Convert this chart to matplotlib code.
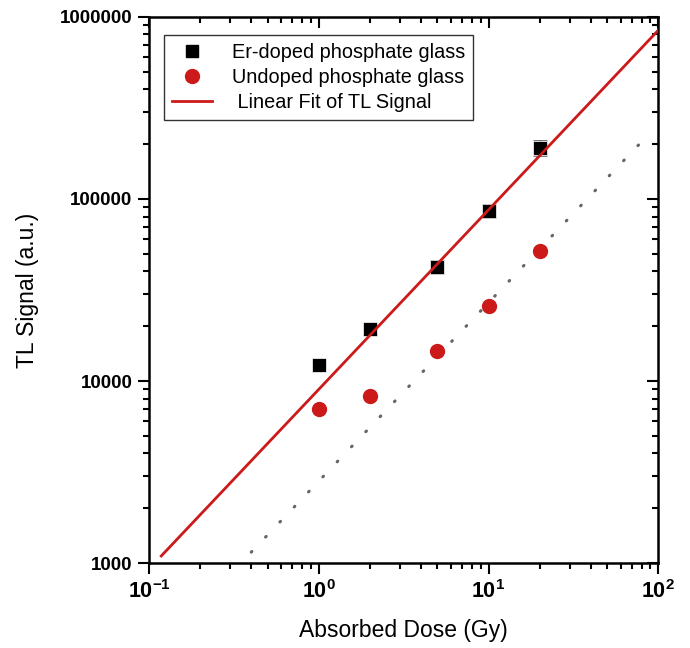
import numpy as np
import matplotlib.pyplot as plt
from matplotlib.lines import Line2D
from matplotlib.ticker import FixedLocator, FixedFormatter, LogLocator, NullFormatter

plt.rcParams['font.family'] = ['Liberation Sans', 'DejaVu Sans']
plt.rcParams['mathtext.fontset'] = 'custom'
plt.rcParams['mathtext.rm'] = 'Liberation Sans:bold'
plt.rcParams['mathtext.bf'] = 'Liberation Sans:bold'
plt.rcParams['mathtext.default'] = 'rm'
plt.rcParams['axes.unicode_minus'] = False

# data
dose = [1, 2, 5, 10, 20]
er_doped = [12300, 19200, 42500, 86300, 191000]
er_err = [400, 1200, 3800, 7500, 19000]
undoped = [6980, 8230, 14700, 25700, 52000]

# linear fit (log-log): y = a * x^b
fit_a, fit_b = 9000, 0.986
fit_range = [0.118, 100]
# dotted guide line
guide_a, guide_b = 2820, 0.98
guide_range = [0.4, 86]

red = '#cc1a1a'

fig = plt.figure(figsize=(6.9, 6.48), dpi=100)
ax = fig.add_axes([0.216, 0.131, 0.738, 0.843])

xf = np.logspace(np.log10(fit_range[0]), np.log10(fit_range[1]), 100)
ax.plot(xf, fit_a * xf ** fit_b, color=red, lw=2, zorder=4)
xg = np.logspace(np.log10(guide_range[0]), np.log10(guide_range[1]), 100)
ax.plot(xg, guide_a * xg ** guide_b, color='#666666', lw=2.2,
        linestyle=(0, (0.3, 6.5)), dash_capstyle='round', zorder=1)

ax.errorbar(dose, er_doped, yerr=er_err, fmt='s', color='black', ms=9.5,
            mec='white', mew=0.5,
            ecolor='#444444', elinewidth=1, capsize=5, capthick=1, zorder=3)
ax.plot(dose, undoped, 'o', color=red, ms=10, zorder=3)

ax.set_xscale('log')
ax.set_yscale('log')
ax.set_xlim(0.1, 100)
ax.set_ylim(1000, 1000000)

ax.xaxis.set_major_locator(FixedLocator([0.1, 1, 10, 100]))
ax.xaxis.set_major_formatter(FixedFormatter([r'$10^{-1}$', r'$10^{0}$', r'$10^{1}$', r'$10^{2}$']))
ax.yaxis.set_major_locator(FixedLocator([1000, 10000, 100000, 1000000]))
ax.yaxis.set_major_formatter(FixedFormatter(['1000', '10000', '100000', '1000000']))
for a in (ax.xaxis, ax.yaxis):
    a.set_minor_locator(LogLocator(base=10, subs=np.arange(2, 10)))
    a.set_minor_formatter(NullFormatter())

ax.tick_params(which='major', direction='out', length=8, width=1.5,
               labelsize=13.5, pad=4)
ax.tick_params(which='minor', direction='out', length=4.5, width=1.5)
ax.tick_params(which='both', top=True, right=True)
for lab in ax.get_yticklabels():
    lab.set_fontweight('bold')
ax.tick_params(axis='x', labelsize=15.5)

# top/right ticks point inward
for t in ax.xaxis.get_major_ticks() + ax.xaxis.get_minor_ticks():
    t.tick2line.set_marker(3)
for t in ax.yaxis.get_major_ticks() + ax.yaxis.get_minor_ticks():
    t.tick2line.set_marker(0)

for s in ax.spines.values():
    s.set_linewidth(1.8)

ax.set_xlabel('Absorbed Dose (Gy)', fontsize=16.5, labelpad=12)
ax.set_ylabel('TL Signal (a.u.)', fontsize=16.5, labelpad=15)

handles = [Line2D([], [], ls='none', marker='s', color='black', ms=8.5),
           Line2D([], [], ls='none', marker='o', color=red, ms=10),
           Line2D([], [], color=red, lw=2)]
labels = ['Er-doped phosphate glass', 'Undoped phosphate glass',
          ' Linear Fit of TL Signal']
leg = ax.legend(handles, labels, loc='upper left',
                bbox_to_anchor=(0.01, 0.985), fontsize=14.3, frameon=True,
                fancybox=False, edgecolor='black', handlelength=2.0,
                borderpad=0.4, labelspacing=0.3, handletextpad=1.0)
leg.get_frame().set_linewidth(1)

plt.savefig('out.png', dpi=100)
